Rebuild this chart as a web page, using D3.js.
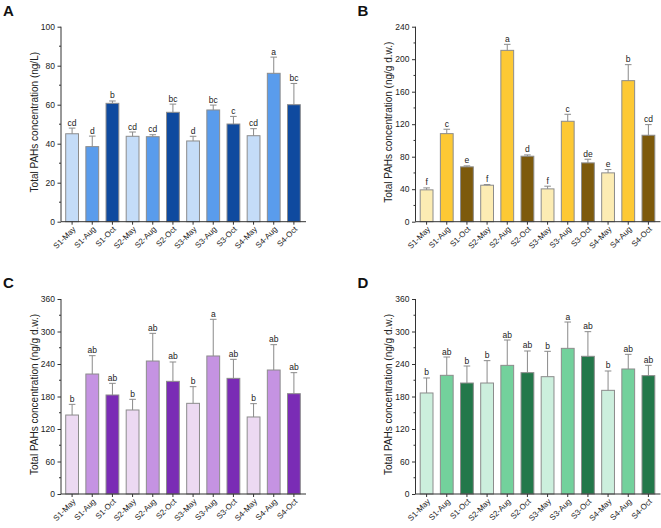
<!DOCTYPE html>
<html><head><meta charset="utf-8">
<script src="https://cdn.jsdelivr.net/npm/d3@7"></script>
<style>body{margin:0;background:#fff}svg{display:block}text{font-family:"Liberation Sans",Arial,sans-serif}</style>
</head><body><svg id="c" width="661" height="528"></svg>
<script>
const categories = ["S1-May","S1-Aug","S1-Oct","S2-May","S2-Aug","S2-Oct","S3-May","S3-Aug","S3-Oct","S4-May","S4-Aug","S4-Oct"];

const valuesA = [45.1,38.5,60.7,43.8,43.6,56.1,41.4,57.3,50.1,44.1,76.1,60.0];
const errorsA = [2.9,5.4,1.2,2.2,1.0,4.2,2.4,2.5,3.9,3.6,8.3,10.9];
const lettersA = ["cd","d","b","cd","cd","bc","d","bc","c","cd","a","bc"];

const valuesB = [39.2,108.4,67.5,44.9,210.9,80.6,40.4,123.6,72.4,60.1,173.6,106.4];
const errorsB = [2.4,5.4,1.2,0.8,7.4,1.6,3.3,8.6,4.5,4.1,19.7,13.1];
const lettersB = ["f","c","e","f","a","d","f","c","de","e","b","cd"];

const valuesC = [145.8,221.5,182.8,155.1,245.5,208.0,167.4,254.8,213.5,142.2,228.9,185.2];
const errorsC = [19.7,33.9,21.5,19.7,51.1,35.7,30.8,67.7,35.1,24.6,46.8,38.8];
const lettersC = ["b","ab","ab","b","ab","ab","b","a","ab","b","ab","ab"];

const valuesD = [186.5,219.1,204.9,204.9,237.5,224.0,216.6,268.9,254.2,191.4,230.8,218.5];
const errorsD = [27.7,33.8,31.4,41.3,46.8,40.0,46.8,48.6,45.5,35.7,27.0,19.0];
const lettersD = ["b","ab","b","b","ab","ab","b","a","ab","b","ab","ab"];

const ticksA = [0,20,40,60,80,100];
const ticksB = [0,40,80,120,160,200,240];
const ticksCD = [0,60,120,180,240,300,360];

const colorsA = ["#c4dcf8","#5a9cec","#0f4a9f"];
const colorsB = ["#fcecb3","#fdc934","#7d5a0c"];
const colorsC = ["#ecd9f2","#c593e2","#7a2cb5"];
const colorsD = ["#ccefdd","#73d19c","#23784a"];

const titleA = "Total PAHs concentration (ng/L)";
const titleBCD = "Total PAHs concentration (ng/g d.w.)";

const panels = [
  {label:"A", ox:0, oy:0, values:valuesA, errors:errorsA, letters:lettersA, ticks:ticksA, colors:colorsA, title:titleA},
  {label:"B", ox:354.5, oy:0, values:valuesB, errors:errorsB, letters:lettersB, ticks:ticksB, colors:colorsB, title:titleBCD},
  {label:"C", ox:0, oy:272.3, values:valuesC, errors:errorsC, letters:lettersC, ticks:ticksCD, colors:colorsC, title:titleBCD},
  {label:"D", ox:354.5, oy:272.3, values:valuesD, errors:errorsD, letters:lettersD, ticks:ticksCD, colors:colorsD, title:titleBCD}
];

const svg = d3.select("#c");
const axL = 61, axR = 306, plotTop = 26.7, plotBot = 221.7;
const axisCol = "#333", errCol = "#8a8a8a";

panels.forEach(p => {
  const g = svg.append("g").attr("transform", `translate(${p.ox},${p.oy})`);
  const x = d3.scaleBand().domain(categories).range([axL, 305]).paddingInner(0.365).paddingOuter(0.233);
  const ymax = p.ticks[p.ticks.length-1];
  const y = d3.scaleLinear().domain([0, ymax]).range([plotBot, plotTop]);

  g.selectAll("rect.bar").data(categories).enter().append("rect")
    .attr("x", d => x(d)).attr("width", x.bandwidth())
    .attr("y", (d,i) => y(p.values[i])).attr("height", (d,i) => plotBot - y(p.values[i]))
    .attr("fill", (d,i) => p.colors[i%3])
    .attr("stroke", "#8c8c8c").attr("stroke-width", 1);

  const cap = 3.3;
  categories.forEach((d,i) => {
    const cx = x(d) + x.bandwidth()/2;
    const y0 = y(p.values[i]), y1 = y(p.values[i] + p.errors[i]);
    g.append("line").attr("x1",cx).attr("x2",cx).attr("y1",y0).attr("y2",y1).attr("stroke",errCol).attr("stroke-width",1);
    g.append("line").attr("x1",cx-cap).attr("x2",cx+cap).attr("y1",y1).attr("y2",y1).attr("stroke",errCol).attr("stroke-width",1);
    g.append("text").attr("x",cx).attr("y",y1-2.5).attr("text-anchor","middle")
      .attr("font-size","8.5px").attr("fill","#222").text(p.letters[i]);
  });

  const step = p.ticks[1]-p.ticks[0];
  const minor = d3.range(step/2, ymax, step);
  const ya = g.append("g").attr("transform",`translate(${axL},0)`)
    .call(d3.axisLeft(y).tickValues(p.ticks).tickSize(3.5).tickPadding(2.5).tickFormat(d3.format("d")));
  ya.select(".domain").attr("stroke",axisCol).attr("d",`M0,${plotTop}V${plotBot}`);
  ya.selectAll(".tick line").attr("stroke",axisCol);
  ya.selectAll(".tick text").attr("font-size","8.5px").attr("fill","#222").attr("font-family","Liberation Sans, Arial, sans-serif");
  ya.selectAll("line.minor").data(minor).enter().append("line").attr("class","minor")
    .attr("x1",0).attr("x2",-2).attr("y1",d=>y(d)).attr("y2",d=>y(d)).attr("stroke",axisCol);

  const xa = g.append("g").attr("transform",`translate(0,${plotBot})`)
    .call(d3.axisBottom(x).tickSize(3).tickPadding(2));
  xa.select(".domain").attr("stroke",axisCol).attr("d",`M${axL},0H${axR}`);
  xa.selectAll(".tick line").attr("stroke",axisCol);
  xa.selectAll(".tick text").attr("font-size","8px").attr("fill","#222")
    .attr("font-family","Liberation Sans, Arial, sans-serif")
    .attr("text-anchor","end").attr("dy",null).attr("y",null)
    .attr("transform","translate(4,8) rotate(-45)");

  g.append("text").attr("transform",`translate(34,${(plotTop+plotBot)/2 - 2}) rotate(-90)`)
    .attr("text-anchor","middle").attr("dominant-baseline","central")
    .attr("font-size","10px").attr("fill","#222").text(p.title);

  g.append("text").attr("x",3).attr("y",15.5).attr("font-size","15px").attr("font-weight","bold")
    .attr("fill","#111").text(p.label);
});
</script></body></html>
